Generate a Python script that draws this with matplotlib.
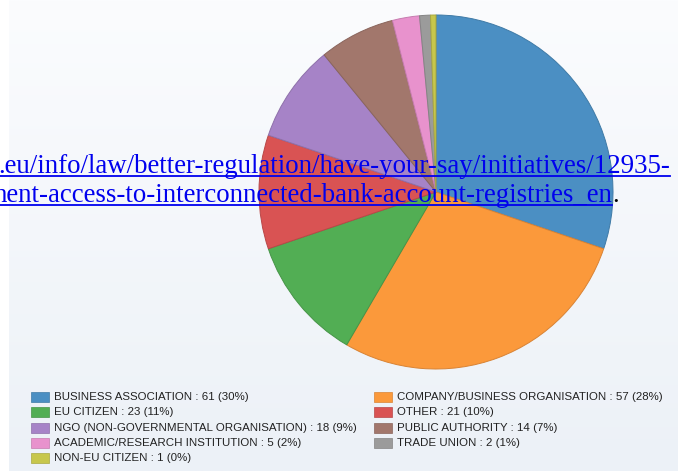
import numpy as np
import matplotlib
matplotlib.use("Agg")
import matplotlib.pyplot as plt
from matplotlib.patches import Rectangle

categories = ["BUSINESS ASSOCIATION", "COMPANY/BUSINESS ORGANISATION", "EU CITIZEN",
              "OTHER", "NGO (NON-GOVERNMENTAL ORGANISATION)", "PUBLIC AUTHORITY",
              "ACADEMIC/RESEARCH INSTITUTION", "TRADE UNION", "NON-EU CITIZEN"]
counts = [61, 57, 23, 21, 18, 14, 5, 2, 1]
colors = ["#4b8fc3", "#fb993b", "#52ae54", "#d95353", "#a683c7",
          "#a2776c", "#e892cd", "#9b9b9b", "#c7c74c"]
edges = ["#3f7aa6", "#d98334", "#469447", "#b94747", "#8e70aa",
         "#8a655c", "#c67caf", "#848484", "#a9a941"]

link_lines = [".eu/info/law/better-regulation/have-your-say/initiatives/12935-",
              "nent-access-to-interconnected-bank-account-registries_en"]

W, H = 678, 471
fig = plt.figure(figsize=(W / 100, H / 100), dpi=100)
fig.patch.set_facecolor("white")

# background panel with a soft vertical gradient
bg = fig.add_axes([0, 0, 1, 1])
bg.set_xlim(0, W)
bg.set_ylim(H, 0)
bg.axis("off")
top = np.array([0xfb, 0xfc, 0xfe]) / 255
bot = np.array([0xec, 0xf1, 0xf7]) / 255
t = np.linspace(0, 1, 256)[:, None, None]
grad = top + (bot - top) * t
grad = np.repeat(grad, 2, axis=1)
bg.imshow(grad, extent=(9, W, H, 0), aspect="auto", zorder=0)

# pie
cx, cy, r = 436, 192, 177
pax = fig.add_axes([(cx - r) / W, (H - cy - r) / H, 2 * r / W, 2 * r / H])
wedges, _ = pax.pie(counts, colors=colors, startangle=90, counterclock=False,
                    radius=1.0, wedgeprops=dict(linewidth=0.7))
for w, ec in zip(wedges, edges):
    w.set_edgecolor(ec)
pax.set_xlim(-1, 1)
pax.set_ylim(-1, 1)
pax.set_aspect("auto")
pax.axis("off")

# overlay for link text and legend
ov = fig.add_axes([0, 0, 1, 1], zorder=5)
ov.set_xlim(0, W)
ov.set_ylim(H, 0)
ov.axis("off")
ov.patch.set_alpha(0)

serif = ["Liberation Serif", "DejaVu Serif"]
ov.text(670, 173, link_lines[0], ha="right", va="baseline", fontsize=19.4,
        family=serif, color="#0000ee")
ov.plot([0, 670], [175.5, 175.5], color="#0000ee", lw=1.3)
ov.text(612, 202, link_lines[1], ha="right", va="baseline", fontsize=19.4,
        family=serif, color="#0000ee")
ov.plot([0, 612], [204.5, 204.5], color="#0000ee", lw=1.3)
ov.text(612, 202, ".", ha="left", va="baseline", fontsize=19.4,
        family=serif, color="black")

# legend, two columns, row by row
total = sum(counts)
col_x = [31, 374]
row_y0, row_dy = 397, 15.3
for i, (name, c, col, ec) in enumerate(zip(categories, counts, colors, edges)):
    x = col_x[i % 2]
    y = row_y0 + (i // 2) * row_dy
    ov.add_patch(Rectangle((x, y - 5), 18, 10, facecolor=col, edgecolor=ec, lw=0.5))
    pct = int(round(100 * c / total))
    ov.text(x + 23, y, f"{name} : {c} ({pct}%)", ha="left", va="center",
            fontsize=8.25, family=["Liberation Sans", "DejaVu Sans"], color="#222222")

fig.savefig("out.png", dpi=100)
